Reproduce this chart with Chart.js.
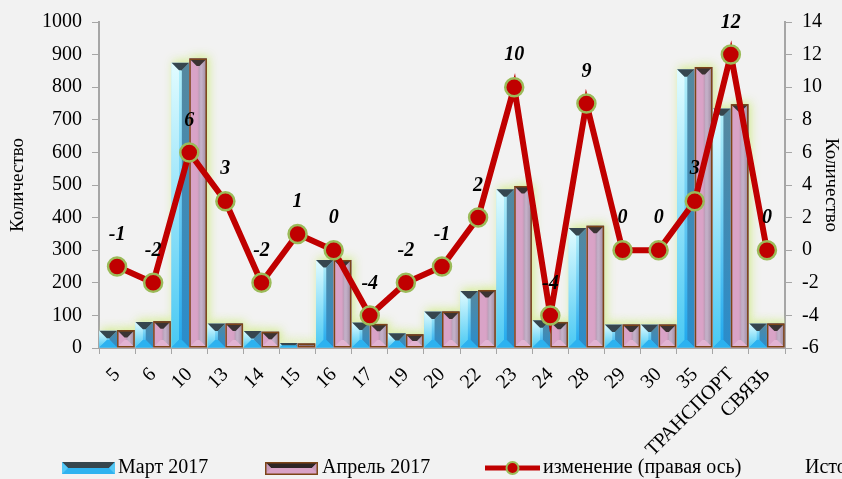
<!DOCTYPE html>
<html><head><meta charset="utf-8">
<script src="https://cdn.jsdelivr.net/npm/chart.js@4.4.0/dist/chart.umd.min.js"></script>
<style>html,body{margin:0;padding:0;background:#f2f2f2;overflow:hidden}</style>
</head><body>
<canvas id="c" width="842" height="479" style="display:block"></canvas>
<script>
const categories = ['5','6','10','13','14','15','16','17','19','20','22','23','24','28','29','30','35','ТРАНСПОРТ','СВЯЗЬ'];
const march2017 = [53,80,875,75,52,15,270,78,45,112,175,487,85,368,72,72,855,735,75];
const april2017 = [55,82,888,75,50,14,270,74,42,112,178,497,80,375,72,72,862,748,75];
const changeRight = [-1,-2,6,3,-2,1,0,-4,-2,-1,2,10,-4,9,0,0,3,12,0];
const seriesNames = ['Март 2017','Апрель 2017','изменение (правая ось)'];
const axisTitle = 'Количество';
const sourceText = 'Источник: Росстат';

const SERIF = '"Liberation Serif","DejaVu Serif",serif';

function poly(ctx, pts, fill){
  ctx.beginPath(); ctx.moveTo(pts[0][0],pts[0][1]);
  for(let i=1;i<pts.length;i++) ctx.lineTo(pts[i][0],pts[i][1]);
  ctx.closePath(); ctx.fillStyle=fill; ctx.fill();
}
function vgrad(ctx,y0,y1,c0,c1){const g=ctx.createLinearGradient(0,y0,0,y1);g.addColorStop(0,c0);g.addColorStop(1,c1);return g;}
function hgrad(ctx,x0,x1,stops){const g=ctx.createLinearGradient(x0,0,x1,0);stops.forEach(s=>g.addColorStop(s[0],s[1]));return g;}

const schemes = {
  march: (ctx,x0,x1,yT,yB)=>({
    top:'#36464e',
    left:vgrad(ctx,yT,yB,'#e2fcff','#49c9f3'),
    center:vgrad(ctx,yT,yB,'#b4f0fa','#1fa8ee'),
    right:vgrad(ctx,yT,yB,'#56889e','#2a8dcc'),
    bottom:'#2cb2f0',
    border:null
  }),
  april: (ctx,x0,x1,yT,yB)=>({
    top:'#3b3333',
    left:'#d9a3c7',
    center:hgrad(ctx,x0,x1,[[0,'#dba6c8'],[0.45,'#d9a2c5'],[0.6,'#b79ab4'],[0.75,'#cdb9d2'],[1,'#a693a8']]),
    right:hgrad(ctx,x0,x1,[[0,'#a795ad'],[0.7,'#c4b0c8'],[1,'#9a869c']]),
    bottom:'#e2b3d2',
    border:'#7c4518'
  })
};

function drawBevel(ctx,x0,x1,yT,yB,sch){
  const w=x1-x0,h=yB-yT; if(h<=0) return;
  const c=sch(ctx,x0,x1,yT,yB);
  let b=Math.min(w*0.42,h/2);
  poly(ctx,[[x0,yT],[x1,yT],[x1,yB],[x0,yB]],c.center);
  poly(ctx,[[x0,yT],[x0+b,yT+b],[x0+b,yB-b],[x0,yB]],c.left);
  poly(ctx,[[x1,yT],[x1-b,yT+b],[x1-b,yB-b],[x1,yB]],c.right);
  poly(ctx,[[x0,yB],[x1,yB],[x1-b,yB-b],[x0+b,yB-b]],c.bottom);
  poly(ctx,[[x0,yT],[x1,yT],[x1-b,yT+b],[x0+b,yT+b]],c.top);
  if(c.border){ctx.strokeStyle=c.border;ctx.lineWidth=1.5;ctx.strokeRect(x0+0.75,yT+0.75,w-1.5,h-1.5);}
}

const barPainter = {
  id:'barPainter',
  beforeDatasetsDraw(chart){
    const ctx=chart.ctx; const area=chart.chartArea;
    ctx.save();
    ctx.beginPath(); ctx.rect(area.left,area.top-10,area.right-area.left,area.bottom-area.top+10); ctx.clip();
    [0,1].forEach(di=>{
      chart.getDatasetMeta(di).data.forEach(el=>{
        const p=el.getProps(['x','y','base','width'],true);
        ctx.save();
        ctx.shadowColor='rgba(205,235,120,0.85)'; ctx.shadowBlur=10; ctx.shadowOffsetX=2; ctx.shadowOffsetY=-2;
        ctx.fillStyle='#f2f2f2';
        ctx.fillRect(p.x-p.width/2,p.y,p.width,p.base-p.y);
        ctx.restore();
      });
    });
    [0,1].forEach(di=>{
      const sch = di===0?schemes.march:schemes.april;
      chart.getDatasetMeta(di).data.forEach(el=>{
        const p=el.getProps(['x','y','base','width'],true);
        drawBevel(ctx,p.x-p.width/2,p.x+p.width/2,p.y,p.base,sch);
      });
    });
    ctx.restore();
  }
};

const labelPainter = {
  id:'labelPainter',
  afterDatasetsDraw(chart){
    const ctx=chart.ctx; const meta=chart.getDatasetMeta(2);
    ctx.save();
    ctx.font='bold italic 20px '+SERIF; ctx.fillStyle='#000'; ctx.textAlign='center'; ctx.textBaseline='middle';
    meta.data.forEach((el,i)=>{ ctx.fillText(String(changeRight[i]), el.x, el.y-32); });
    ctx.restore();
  }
};

const legendPainter = {
  id:'legendPainter',
  afterDraw(chart){
    const ctx=chart.ctx; const y=468;
    ctx.save();
    function swatch(x0,x1,topC,botC,endC,border){
      const yT=y-6,yB=y+6;
      poly(ctx,[[x0,yT],[x1,yT],[x1,yB],[x0,yB]],botC);
      poly(ctx,[[x0,yT],[x1,yT],[x1-6,yT+6],[x0+6,yT+6]],topC);
      poly(ctx,[[x0,yT],[x0+6,yT+6],[x0,yB]],endC);
      poly(ctx,[[x1,yT],[x1-6,yT+6],[x1,yB]],endC);
      if(border){ctx.strokeStyle=border;ctx.lineWidth=1.5;ctx.strokeRect(x0+0.75,yT+0.75,x1-x0-1.5,11.5);}
    }
    swatch(62,115,'#36464e','#2fb3f0','#55c8f5',null);
    swatch(265,318,'#2e2626','#d9a2c6','#c89ab8','#7c4518');
    ctx.strokeStyle='#c00000'; ctx.lineWidth=5;
    ctx.beginPath(); ctx.moveTo(485,y); ctx.lineTo(540,y); ctx.stroke();
    ctx.beginPath(); ctx.arc(512.5,y,6,0,Math.PI*2); ctx.fillStyle='#c00000'; ctx.fill();
    ctx.lineWidth=2; ctx.strokeStyle='#9bbb59'; ctx.stroke();
    ctx.font='20px '+SERIF; ctx.fillStyle='#000'; ctx.textAlign='left'; ctx.textBaseline='middle';
    ctx.fillText(seriesNames[0],118,y);
    ctx.fillText(seriesNames[1],322,y);
    ctx.fillText(seriesNames[2],543,y);
    ctx.fillText(sourceText,805,y);
    ctx.restore();
  }
};

const axisColor='#a6a6a6';
new Chart(document.getElementById('c'),{
  type:'bar',
  data:{
    labels:categories,
    datasets:[
      {label:seriesNames[0],data:march2017,backgroundColor:'rgba(0,0,0,0)',borderWidth:0,yAxisID:'y',order:2,categoryPercentage:0.98,barPercentage:1},
      {label:seriesNames[1],data:april2017,backgroundColor:'rgba(0,0,0,0)',borderWidth:0,yAxisID:'y',order:2,categoryPercentage:0.98,barPercentage:1},
      {type:'line',label:seriesNames[2],data:changeRight,yAxisID:'y1',order:1,
       borderColor:'#c00000',borderWidth:6,tension:0,
       pointRadius:9,pointHoverRadius:9,pointBackgroundColor:'#c00000',pointBorderColor:'#9bbb59',pointBorderWidth:2.5}
    ]
  },
  options:{
    responsive:false,animation:false,
    layout:{padding:{top:15,left:0,right:0,bottom:0}},
    plugins:{legend:{display:false},tooltip:{enabled:false}},
    scales:{
      x:{
        grid:{display:true,drawOnChartArea:false,drawTicks:true,tickLength:6,color:axisColor,offset:true},
        border:{display:true,color:axisColor,width:2},
        ticks:{font:{family:SERIF,size:20},color:'#000',maxRotation:45,minRotation:45,autoSkip:false,padding:9},
        afterFit(s){s.height=131;}
      },
      y:{
        position:'left',min:0,max:1000,
        grid:{display:true,drawOnChartArea:false,drawTicks:true,tickLength:7,color:axisColor},
        border:{display:true,color:axisColor,width:2},
        ticks:{stepSize:100,font:{family:SERIF,size:20},color:'#000',padding:10,callback:v=>String(v)},
        title:{display:true,text:axisTitle,font:{family:SERIF,size:19},color:'#000',padding:{top:7,bottom:0}},
        afterFit(s){s.width=99;}
      },
      y1:{
        position:'right',min:-6,max:14,
        grid:{display:true,drawOnChartArea:false,drawTicks:true,tickLength:7,color:axisColor},
        border:{display:true,color:axisColor,width:2},
        ticks:{stepSize:2,font:{family:SERIF,size:20},color:'#000',padding:10,callback:v=>String(v)},
        title:{display:true,text:axisTitle,font:{family:SERIF,size:19},color:'#000',padding:{top:0,bottom:0}},
        afterFit(s){s.width=57;}
      }
    }
  },
  plugins:[barPainter,labelPainter,legendPainter]
});
</script>
</body></html>
